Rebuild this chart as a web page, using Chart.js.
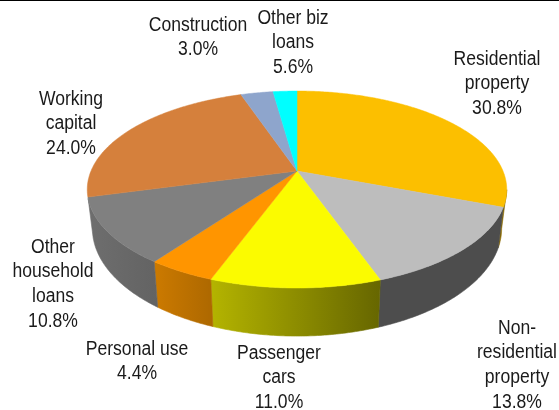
<!DOCTYPE html>
<html><head><meta charset="utf-8">
<style>html,body{margin:0;padding:0;background:#fff}canvas{display:block}
#c{width:559px;height:410px}</style>
<script src="https://cdn.jsdelivr.net/npm/chart.js@4"></script></head>
<body><canvas id="c" width="559" height="410"></canvas>
<script>
const categories = [['Residential','property'],['Non-','residential','property'],['Passenger','cars'],['Personal use'],['Other','household','loans'],['Working','capital'],['Construction'],['Other biz','loans']];
const shownPercent = ['30.8%','13.8%','11.0%','4.4%','10.8%','24.0%','3.0%','5.6%'];
const sliceValues = [30.8,13.8,11.0,4.4,10.8,24.0,3.0,2.2];
const topColors = ['#fcbf00','#bdbdbd','#fbfb00','#ff9500','#808080','#d5803c','#8ea5cc','#00ffff'];
const wallColors = [['#8a6a00','#8a6a00'],['#4d4d4d','#4d4d4d'],['#b4b400','#666600'],['#cc7a00','#ad6800'],['#6e6e6e','#636363'],['#8a5228','#8a5228'],['#5a6a84','#5a6a84'],['#009999','#009999']];
const labelCenters = [[497,59.5],[517,328.5],[279,353.5],[137,349.5],[53,247.5],[71,99.5],[198,25.5],[293,18.5]];

const topFace = {cx:297, cy:171, a:206, b:95, p:-0.188};
const baseFace = {cx:297, cy:208, a:201, b:104, p:-0.188};
const wallFromRight = 0.19, wallFromLeft = 0.275;

function project(f, ang){
  const u=Math.cos(ang), v=Math.sin(ang), d=1+f.p*v;
  return [f.cx+f.a*u/d, f.cy+f.b*v/d];
}
function arcPoints(f,s,e){
  const n=Math.max(2,Math.ceil((e-s)/0.01)), pts=[];
  for(let i=0;i<=n;i++) pts.push(project(f,s+(e-s)*i/n));
  return pts;
}
function trace(ctx,pts){pts.forEach((q,i)=>i?ctx.lineTo(q[0],q[1]):ctx.moveTo(q[0],q[1]));}

const pie3d = {
  id:'pie3d',
  beforeDatasetDraw(chart,args){
    const ctx=chart.ctx, arcs=chart.getDatasetMeta(args.index).data;
    const vs=Math.asin(wallFromRight), ve=Math.PI-Math.asin(wallFromLeft);
    // side walls
    arcs.forEach((arc,i)=>{
      const {startAngle,endAngle}=arc.getProps(['startAngle','endAngle'],true);
      const s=Math.max(startAngle,vs), e=Math.min(endAngle,ve);
      if(e<=s) return;
      const t=arcPoints(topFace,s,e), b=arcPoints(baseFace,s,e).reverse();
      const xs=t.concat(b).map(q=>q[0]);
      const g=ctx.createLinearGradient(Math.min(...xs),0,Math.max(...xs),0);
      g.addColorStop(0,wallColors[i][0]); g.addColorStop(1,wallColors[i][1]);
      ctx.beginPath(); trace(ctx,t); b.forEach(q=>ctx.lineTo(q[0],q[1])); ctx.closePath();
      ctx.fillStyle=g; ctx.strokeStyle=g; ctx.lineWidth=0.6; ctx.fill(); ctx.stroke();
    });
    // top face
    arcs.forEach((arc,i)=>{
      const {startAngle,endAngle}=arc.getProps(['startAngle','endAngle'],true);
      ctx.beginPath(); ctx.moveTo(topFace.cx,topFace.cy);
      arcPoints(topFace,startAngle,endAngle).forEach(q=>ctx.lineTo(q[0],q[1]));
      ctx.closePath();
      ctx.fillStyle=topColors[i]; ctx.strokeStyle=topColors[i]; ctx.lineWidth=0.5; ctx.fill(); ctx.stroke();
    });
    return false;
  },
  afterDraw(chart){
    const ctx=chart.ctx;
    ctx.save();
    ctx.fillStyle='#000'; ctx.fillRect(0,0,chart.width,1);
    ctx.fillStyle='#1a1a1a'; ctx.font='19.5px "Liberation Sans", Arial, sans-serif';
    ctx.textAlign='center'; ctx.textBaseline='middle';
    categories.forEach((lines,i)=>{
      const [x,y]=labelCenters[i];
      [...lines,shownPercent[i]].forEach((t,k)=>{
        ctx.save(); ctx.translate(x,y+k*24.6); ctx.scale(0.9,1); ctx.fillText(t,0,0); ctx.restore();
      });
    });
    ctx.restore();
  }
};

new Chart(document.getElementById('c'),{
  type:'pie',
  data:{labels:categories.map(l=>l.join(' ')),datasets:[{data:sliceValues,backgroundColor:topColors,borderWidth:0}]},
  options:{responsive:false,animation:false,plugins:{legend:{display:false},tooltip:{enabled:false}}},
  plugins:[pie3d]
});
</script></body></html>
